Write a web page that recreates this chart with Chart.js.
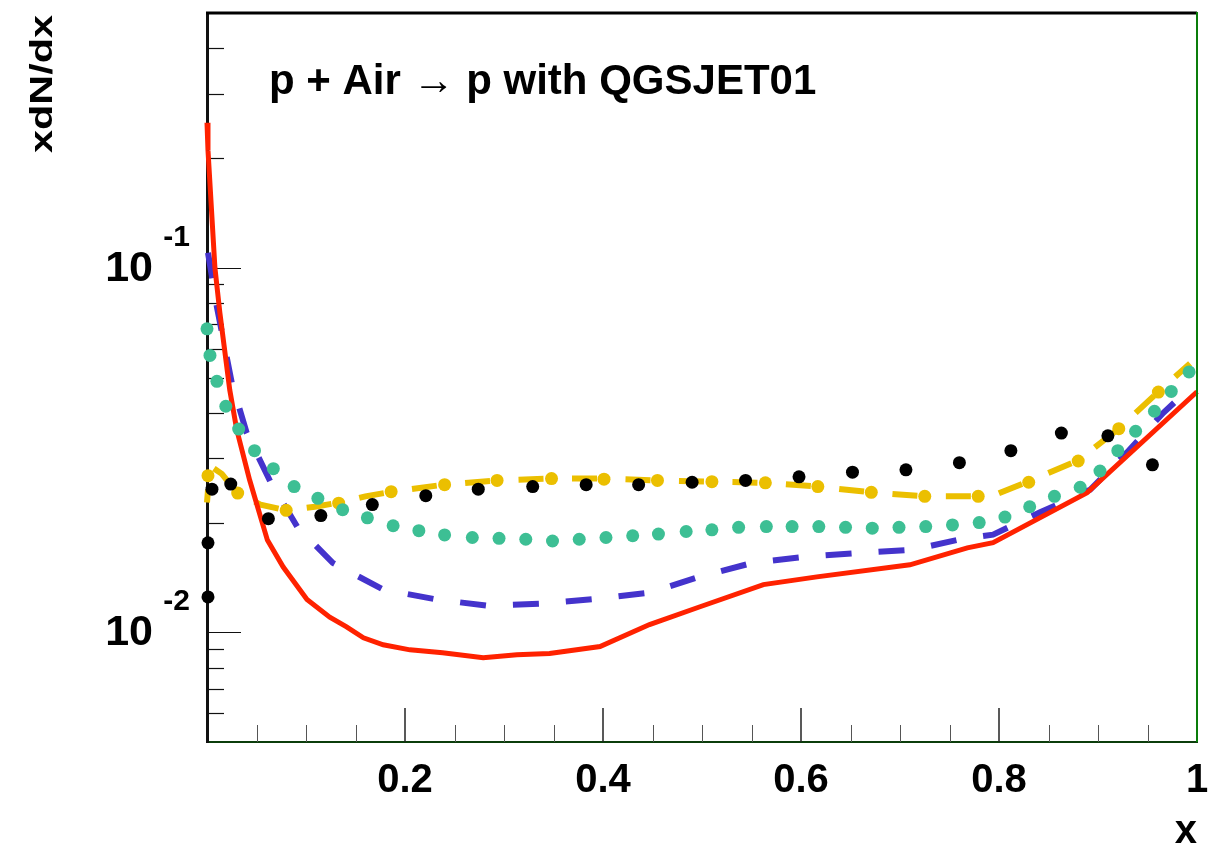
<!DOCTYPE html>
<html>
<head>
<meta charset="utf-8">
<title>p + Air → p with QGSJET01</title>
<script src="https://cdn.jsdelivr.net/npm/chart.js@4.4.1/dist/chart.umd.min.js"></script>
<style>
  html, body { margin: 0; padding: 0; background: #fff; }
  #wrap { width: 1225px; height: 850px; position: relative; }
</style>
</head>
<body>
<div id="wrap"><canvas id="xdndx"></canvas></div>
<script>
// --- DATA ---
const redX = [0, 0.001, 0.008, 0.013, 0.023, 0.030, 0.043, 0.061, 0.077, 0.101, 0.124, 0.141, 0.158, 0.178, 0.205, 0.238, 0.279, 0.313, 0.346, 0.397, 0.447, 0.498, 0.562, 0.616, 0.710, 0.768, 0.794, 0.889, 1.0];
const redY = [0.25, 0.21, 0.10, 0.0753, 0.0462, 0.0360, 0.0262, 0.0179, 0.0151, 0.0123, 0.0110, 0.01035, 0.00966, 0.00924, 0.00895, 0.00879, 0.00851, 0.00868, 0.00874, 0.00914, 0.0105, 0.01175, 0.01351, 0.01419, 0.01531, 0.01705, 0.01762, 0.02415, 0.0457];

const blueX = [0.001, 0.005, 0.010, 0.025, 0.040, 0.064, 0.091, 0.127, 0.178, 0.232, 0.283, 0.339, 0.394, 0.447, 0.498, 0.552, 0.606, 0.660, 0.713, 0.764, 0.794, 0.841, 0.892, 0.929, 0.966, 0.990];
const blueY = [0.110, 0.0945, 0.0781, 0.0484, 0.0353, 0.0259, 0.0195, 0.0155, 0.0131, 0.0123, 0.01183, 0.01198, 0.01236, 0.01284, 0.01422, 0.01553, 0.01612, 0.01652, 0.01685, 0.01807, 0.01853, 0.0213, 0.0246, 0.0311, 0.0400, 0.0460];

const yellowX = [0.0, 0.003, 0.015, 0.030, 0.054, 0.080, 0.109, 0.134, 0.160, 0.187, 0.239, 0.294, 0.347, 0.401, 0.455, 0.510, 0.564, 0.617, 0.671, 0.725, 0.779, 0.794, 0.829, 0.880, 0.921, 0.961, 0.993];
const yellowY = [0.0227, 0.0286, 0.0272, 0.0242, 0.0224, 0.0216, 0.0221, 0.0227, 0.0236, 0.0243, 0.0254, 0.0261, 0.0264, 0.0264, 0.0261, 0.0259, 0.0257, 0.0251, 0.0242, 0.0236, 0.0236, 0.0237, 0.0259, 0.0296, 0.0362, 0.0457, 0.0546];

const yellowDotX = [0.001, 0.031, 0.080, 0.133, 0.186, 0.240, 0.293, 0.348, 0.401, 0.455, 0.510, 0.564, 0.617, 0.671, 0.725, 0.779, 0.830, 0.880, 0.921, 0.961];
const yellowDotY = [0.0269, 0.0241, 0.0216, 0.0226, 0.0243, 0.0254, 0.0261, 0.0264, 0.0263, 0.0261, 0.0259, 0.0257, 0.0251, 0.0242, 0.0236, 0.0236, 0.0258, 0.0295, 0.0362, 0.0456];

const tealX = [0.000, 0.003, 0.010, 0.019, 0.032, 0.048, 0.067, 0.088, 0.112, 0.137, 0.162, 0.188, 0.214, 0.240, 0.268, 0.295, 0.322, 0.349, 0.376, 0.403, 0.430, 0.456, 0.484, 0.510, 0.537, 0.565, 0.591, 0.618, 0.645, 0.672, 0.699, 0.726, 0.753, 0.780, 0.806, 0.831, 0.856, 0.882, 0.902, 0.920, 0.938, 0.957, 0.974, 0.992];
const tealY = [0.0680, 0.0575, 0.0488, 0.0417, 0.0361, 0.0315, 0.0281, 0.0251, 0.0233, 0.0217, 0.0206, 0.0196, 0.0190, 0.0185, 0.0182, 0.0181, 0.0180, 0.0178, 0.0180, 0.0182, 0.0184, 0.0186, 0.0189, 0.0191, 0.0194, 0.0195, 0.0195, 0.0195, 0.0194, 0.0193, 0.0194, 0.0195, 0.0197, 0.0200, 0.0207, 0.0221, 0.0236, 0.0250, 0.0277, 0.0315, 0.0356, 0.0404, 0.0458, 0.0518];

const blackX = [0.001, 0.001, 0.005, 0.024, 0.062, 0.115, 0.167, 0.221, 0.274, 0.329, 0.383, 0.436, 0.490, 0.544, 0.598, 0.652, 0.706, 0.760, 0.812, 0.863, 0.910, 0.955];
const blackY = [0.0176, 0.0125, 0.0247, 0.0255, 0.0205, 0.0209, 0.0224, 0.0237, 0.0247, 0.0251, 0.0254, 0.0254, 0.0258, 0.0261, 0.0267, 0.0275, 0.0279, 0.0292, 0.0315, 0.0352, 0.0346, 0.0288];

// axis ticks and labels
const xLabelTicks = [0.2, 0.4, 0.6, 0.8, 1];
const xMajorTicks = [0.2, 0.4, 0.6, 0.8];
const xMinorTicks = [0.05, 0.1, 0.15, 0.25, 0.3, 0.35, 0.45, 0.5, 0.55, 0.65, 0.7, 0.75, 0.85, 0.9, 0.95];
const yMajorTicks = [0.01, 0.1];
const yMinorTicks = [0.006, 0.007, 0.008, 0.009, 0.02, 0.03, 0.04, 0.05, 0.06, 0.07, 0.08, 0.09, 0.2, 0.3, 0.4];
const yLabelValues = [0.1, 0.01];

const FONT = '"Liberation Sans", Arial, Helvetica, sans-serif';
const pts = (xs, ys) => xs.map((x, i) => ({ x, y: ys[i] }));

// --- TICKS, FRAME AND TEXT (ROOT style) ---
const rootFrame = {
    id: 'rootFrame',
    beforeDatasetsDraw(chart) {
        const { ctx, chartArea: a, scales: { x, y } } = chart;
        ctx.save();
        const line = (x1, y1, x2, y2, color, w) => {
            ctx.strokeStyle = color;
            ctx.lineWidth = w;
            ctx.beginPath();
            ctx.moveTo(x1, y1);
            ctx.lineTo(x2, y2);
            ctx.stroke();
        };
        xMinorTicks.forEach(v => { const px = Math.round(x.getPixelForValue(v)) + 0.5; line(px, a.bottom, px, a.bottom - 17, '#555', 1); });
        xMajorTicks.forEach(v => { const px = Math.round(x.getPixelForValue(v)); line(px, a.bottom, px, a.bottom - 34, '#222', 1.5); });
        yMinorTicks.forEach(v => { const py = Math.round(y.getPixelForValue(v)) + 0.5; line(a.left, py, a.left + 17, py, '#111', 1.2); });
        yMajorTicks.forEach(v => { const py = Math.round(y.getPixelForValue(v)) + 0.5; line(a.left, py, a.left + 34, py, '#111', 1.2); });
        ctx.restore();
    },
    afterDraw(chart) {
        const { ctx, chartArea: a, scales: { y } } = chart;
        ctx.save();
        // top and right side of the frame
        ctx.lineWidth = 3;
        ctx.strokeStyle = '#000';
        ctx.beginPath();
        ctx.moveTo(a.left - 1, a.top);
        ctx.lineTo(a.right, a.top);
        ctx.stroke();
        ctx.lineWidth = 2;
        ctx.strokeStyle = '#0a7d0a';
        ctx.beginPath();
        ctx.moveTo(a.right, a.top - 1);
        ctx.lineTo(a.right, a.bottom);
        ctx.stroke();

        // y labels as 10^n
        ctx.fillStyle = '#000';
        yLabelValues.forEach(v => {
            const py = y.getPixelForValue(v);
            ctx.font = 'bold 43px ' + FONT;
            ctx.textAlign = 'right';
            ctx.textBaseline = 'middle';
            ctx.fillText('10', 153, py + 1);
            ctx.font = 'bold 30px ' + FONT;
            ctx.textBaseline = 'alphabetic';
            ctx.fillText(String(Math.round(Math.log10(v))), 190, py - 22);
        });

        // plot label
        ctx.font = 'bold 42px ' + FONT;
        ctx.textAlign = 'left';
        ctx.textBaseline = 'alphabetic';
        ctx.fillText('p + Air \u2192 p with QGSJET01', 269, 94);

        // y axis title, rotated
        ctx.font = 'bold 40px ' + FONT;
        const w = ctx.measureText('xdN/dx').width;
        ctx.translate(52, 153);
        ctx.rotate(-Math.PI / 2);
        ctx.scale(138 / w, 0.8);
        ctx.textAlign = 'left';
        ctx.fillText('xdN/dx', 0, 0);
        ctx.restore();
    }
};

// --- CHART ---
document.addEventListener('DOMContentLoaded', () => {
    const ctx = document.getElementById('xdndx');
    new Chart(ctx, {
        type: 'scatter',
        data: {
            datasets: [{
                label: 'data',
                data: pts(blackX, blackY),
                backgroundColor: '#000',
                pointRadius: 6.5,
                pointBorderWidth: 0,
                showLine: false,
                clip: false
            }, {
                label: 'teal',
                data: pts(tealX, tealY),
                backgroundColor: '#3dbf94',
                pointRadius: 6.5,
                pointBorderWidth: 0,
                showLine: false,
                clip: false
            }, {
                label: 'red',
                data: pts(redX, redY),
                borderColor: '#ff2200',
                borderWidth: 5,
                pointRadius: 0,
                showLine: true,
                tension: 0,
                clip: false
            }, {
                label: 'yellow dots',
                data: pts(yellowDotX, yellowDotY),
                backgroundColor: '#ebbf00',
                pointRadius: 6.5,
                pointBorderWidth: 0,
                showLine: false,
                clip: false
            }, {
                label: 'yellow',
                data: pts(yellowX, yellowY),
                borderColor: '#ebbf00',
                borderWidth: 6,
                borderDash: [25, 28.5],
                borderDashOffset: 12,
                pointRadius: 0,
                showLine: true,
                tension: 0,
                clip: false
            }, {
                label: 'blue',
                data: pts(blueX, blueY),
                borderColor: '#4433cc',
                borderWidth: 6,
                borderDash: [26, 27],
                pointRadius: 0,
                showLine: true,
                tension: 0,
                clip: false
            }]
        },
        options: {
            responsive: true,
            maintainAspectRatio: false,
            animation: false,
            devicePixelRatio: 1,
            layout: { padding: { top: 13, right: 28, left: 0, bottom: 0 } },
            plugins: {
                legend: { display: false },
                tooltip: { enabled: false }
            },
            scales: {
                x: {
                    type: 'linear',
                    min: 0,
                    max: 1,
                    afterBuildTicks: s => { s.ticks = xLabelTicks.map(v => ({ value: v })); },
                    afterFit: s => { s.height = 108; },
                    grid: { display: false, drawTicks: false },
                    border: { display: true, color: '#0b3d0b', width: 2 },
                    ticks: {
                        padding: 15,
                        color: '#000',
                        maxRotation: 0,
                        autoSkip: false,
                        font: { family: FONT, size: 40, weight: 'bold' },
                        callback: v => String(v)
                    },
                    title: {
                        display: true,
                        text: 'x',
                        align: 'end',
                        color: '#000',
                        font: { family: FONT, size: 40, weight: 'bold', lineHeight: 0.9 },
                        padding: 0
                    }
                },
                y: {
                    type: 'logarithmic',
                    min: 0.005,
                    max: 0.5,
                    afterFit: s => { s.width = 207; },
                    grid: { display: false, drawTicks: false },
                    border: { display: true, color: '#111', width: 3 },
                    ticks: { display: false }
                }
            }
        },
        plugins: [rootFrame]
    });
});
</script>
</body>
</html>
